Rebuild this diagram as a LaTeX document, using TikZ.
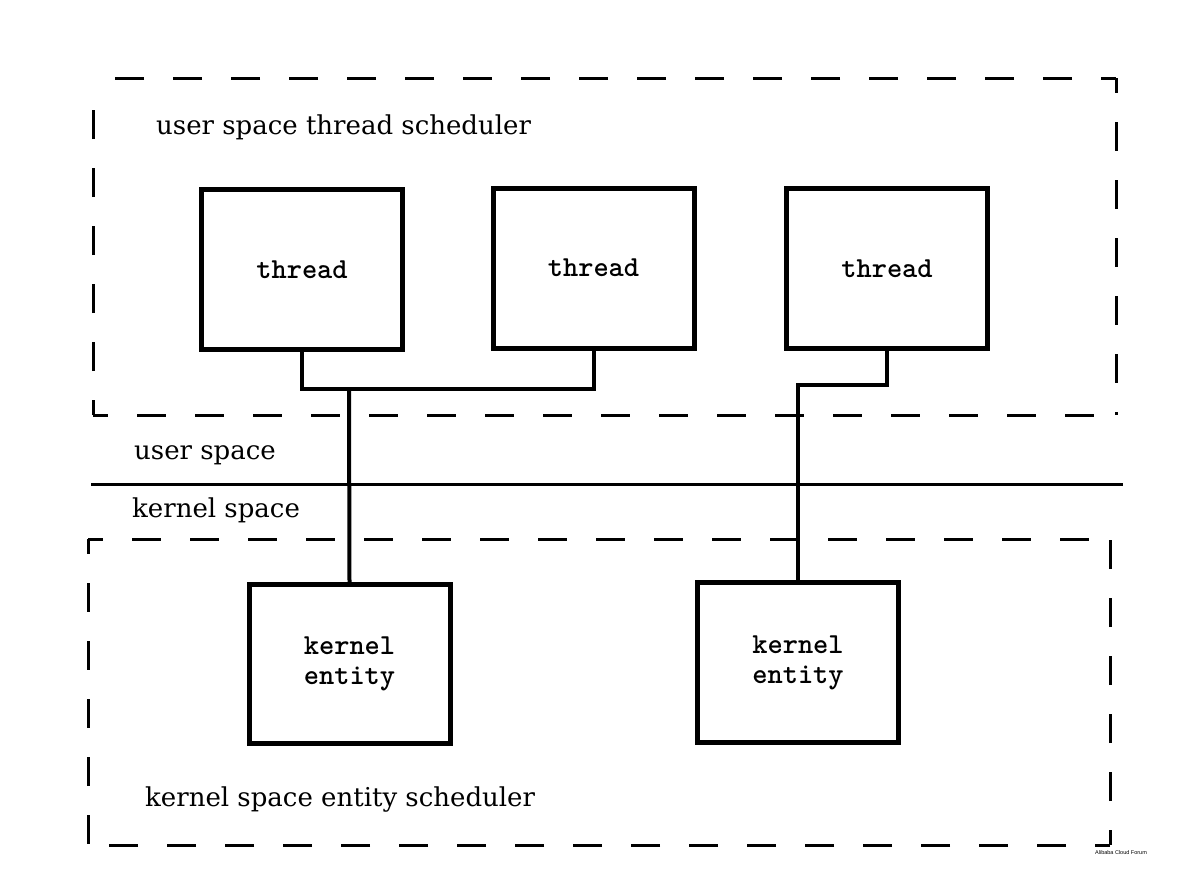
\documentclass[tikz,border=0pt]{standalone}
\usepackage{fontspec}
\setmainfont{DejaVu Serif}
\newfontfamily\monofont{lmmonolt10-bold.otf}
\newfontfamily\wmfont{Liberation Sans}
\begin{document}
\begin{tikzpicture}[x=1pt,y=-1pt,
  box/.style={draw, line width=5pt, minimum width=201pt, minimum height=160pt,
    inner sep=0pt, align=center, font=\monofont\fontsize{29}{30}\selectfont},
  link/.style={line width=4pt},
  region/.style={line width=3pt, dash pattern=on 29pt off 29pt, dash phase=14pt},
  lbl/.style={anchor=west, inner sep=0pt, font=\fontsize{26}{28}\selectfont}]
\fill[white] (0,0) rectangle (1182,879);
\useasboundingbox (0,0) rectangle (1182,879);

% regions
\draw[region] (1116,78) -- (100,78);
\draw[region] (1116,78) -- (1116,415);
\draw[region] (93,415) -- (1116,415);
\draw[region] (93,415) -- (93,86);

\draw[region] (88,539) -- (1110,539);
\draw[region] (88,539) -- (88,845);
\draw[region] (1110,845) -- (88,845);
\draw[region] (1110,845) -- (1110,539);

% separator
\draw[line width=3pt] (91,484) -- (1123,484);

% labels
\node[lbl] (lus) at (156,127) {user space thread scheduler};
\node[lbl] (lu) at (134,455) {user space};
\node[lbl] (lk) at (132,510) {kernel space};
\node[lbl] (lks) at (145,799) {kernel space entity scheduler};

% boxes
\node[box] (t1) at (302,269.5) {thread};
\node[box] (t2) at (593.5,268) {thread};
\node[box] (t3) at (887,268.5) {thread};
\node[box, minimum height=159pt] (k1) at (349.5,664) {kernel\\entity};
\node[box, minimum height=160pt] (k2) at (798,662.5) {kernel\\entity};

% connectors
\coordinate (j1) at (349,389);
\draw[link] (t1.south) |- (j1) -| (t2.south);
\draw[link] (k1.north) -- (j1);
\coordinate (j2) at (887,385);
\draw[link] (t3.south) -- (j2) -| (k2.north);

% watermark
\node[inner sep=0pt, font=\wmfont\fontsize{5.5}{6}\selectfont] (wm) at (1121,853) {Alibaba Cloud Forum};
\end{tikzpicture}
\end{document}
